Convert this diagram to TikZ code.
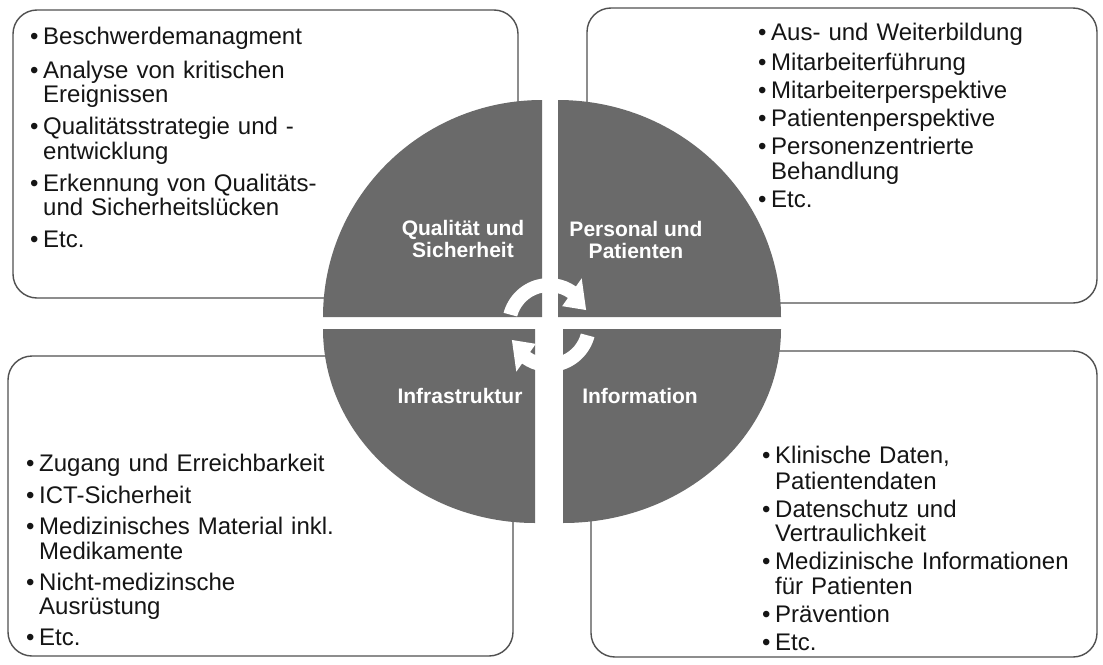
\documentclass[tikz,border=0pt]{standalone}
\usepackage{fontspec}
\setmainfont{Liberation Sans}
\definecolor{boxc}{HTML}{505050}
\definecolor{quadc}{HTML}{6A6A6A}
\definecolor{txtc}{HTML}{151515}
\newcommand{\lbul}{\makebox[13pt][l]{•}}
\newcommand{\lcont}{\hspace*{13pt}}
\begin{document}
\begin{tikzpicture}[x=1pt,y=-1pt,
  box/.style={draw=boxc, line width=1.4pt, rounded corners=24pt, fill=white},
  quad/.style={fill=quadc, draw=none},
  lbl/.style={text=white, font=\fontsize{21}{22}\selectfont\bfseries, align=center, inner sep=0pt},
  lst/.style={text=txtc, font=\fontsize{24}{24.5}\selectfont, align=left, inner sep=0pt, anchor=north west, text width=480pt},
  arr/.style={fill=white, draw=none}]
\fill[white] (0,0) rectangle (1103,664);
\useasboundingbox (0,0) rectangle (1103,664);

% boxes
\path[box] (13,10) rectangle (518,298);
\path[box] (587,8) rectangle (1097,303);
\path[box] (8,356) rectangle (513,656);
\path[box] (591,351) rectangle (1097,657);

% quadrants
\path[quad] (542,317) -- (323,317) arc[start angle=180, end angle=270, x radius=219, y radius=217] -- cycle;
\path[quad] (558,317) -- (558,100) arc[start angle=270, end angle=360, x radius=223, y radius=217] -- cycle;
\path[quad] (563,329) -- (781,329) arc[start angle=0, end angle=90, x radius=218, y radius=194] -- cycle;
\path[quad] (535,329) -- (535,523) arc[start angle=90, end angle=180, x radius=212, y radius=194] -- cycle;

% cycle arrows
\begin{scope}[shift={(549,325)}, yscale=-1]
  \path[arr] (165:47) arc[start angle=165, end angle=55, radius=47] -- (55:57) -- (22:40) -- (55:23) -- (55:33) arc[start angle=55, end angle=165, radius=33] -- cycle;
  \path[arr] (-15:47) arc[start angle=-15, end angle=-125, radius=47] -- (-125:57) -- (-158:40) -- (-125:23) -- (-125:33) arc[start angle=-125, end angle=-15, radius=33] -- cycle;
\end{scope}

% quadrant labels
\node[lbl] (qs) at (463,239) {Qualität und\\Sicherheit};
\node[lbl] (pp) at (636,240) {Personal und\\Patienten};
\node[lbl] (inf) at (460,396) {Infrastruktur};
\node[lbl] (info) at (640,396) {Information};

% lists
\node[lst] (tl) at (30,27.3) {\strut\lbul Beschwerdemanagment\\[7.5pt]
\lbul Analyse von kritischen\\
\lcont Ereignissen\\[7.5pt]
\lbul Qualitätsstrategie und -\\
\lcont entwicklung\\[7.5pt]
\lbul Erkennung von Qualitäts-\\
\lcont und Sicherheitslücken\\[7.5pt]
\lbul Etc.};

\node[lst] (tr) at (758,23.3) {\strut\lbul Aus- und Weiterbildung\\[3.7pt]
\lbul Mitarbeiterführung\\[3.7pt]
\lbul Mitarbeiterperspektive\\[3.7pt]
\lbul Patientenperspektive\\[3.7pt]
\lbul Personenzentrierte\\
\lcont Behandlung\\[3.7pt]
\lbul Etc.};

\node[lst] (bl) at (26,453.8) {\strut\lbul Zugang und Erreichbarkeit\\[6.5pt]
\lbul ICT-Sicherheit\\[6.5pt]
\lbul Medizinisches Material inkl.\\
\lcont Medikamente\\[6.5pt]
\lbul Nicht-medizinsche\\
\lcont Ausrüstung\\[6.5pt]
\lbul Etc.};

\node[lst] (br) at (762,446) {\strut\lbul Klinische Daten,\\
\lcont Patientendaten\\[3.5pt]
\lbul Datenschutz und\\
\lcont Vertraulichkeit\\[3.5pt]
\lbul Medizinische Informationen\\
\lcont für Patienten\\[3.5pt]
\lbul Prävention\\[3.5pt]
\lbul Etc.};
\end{tikzpicture}
\end{document}
